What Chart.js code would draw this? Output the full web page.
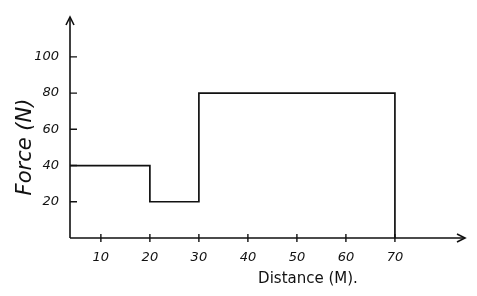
<!DOCTYPE html>
<html>
<head>
<meta charset="utf-8">
<script src="https://cdn.jsdelivr.net/npm/chart.js@4/dist/chart.umd.min.js"></script>
<style>
  html, body { margin: 0; padding: 0; background: #fff; }
  #wrap { width: 477px; height: 296px; }
</style>
</head>
<body>
<div id="wrap"><canvas id="c" width="477" height="296"></canvas></div>
<script>
// step profile: distance (m) -> force (N)
const distance = [3.7, 20, 20, 30, 30, 70, 70];
const force    = [40, 40, 20, 20, 80, 80, 0];
const xTicks = [10, 20, 30, 40, 50, 60, 70];
const yTicks = [20, 40, 60, 80, 100];

const ink = '#111';

// hand-drawn style axes with arrows, cross ticks and axis titles
const axesPlugin = {
  id: 'axes',
  beforeDatasetsDraw(chart) {
    const { ctx, chartArea: a, scales: { x, y } } = chart;
    ctx.save();
    ctx.strokeStyle = ink;
    ctx.lineWidth = 1.6;
    ctx.beginPath();
    ctx.moveTo(a.left, a.bottom);
    ctx.lineTo(a.left, a.top);
    ctx.moveTo(a.left, a.bottom);
    ctx.lineTo(a.right, a.bottom);
    ctx.stroke();
    // arrow heads
    ctx.beginPath();
    ctx.moveTo(a.left - 4, a.top + 8); ctx.lineTo(a.left, a.top); ctx.lineTo(a.left + 4, a.top + 8);
    ctx.moveTo(a.right - 8, a.bottom - 4); ctx.lineTo(a.right, a.bottom); ctx.lineTo(a.right - 8, a.bottom + 4);
    ctx.stroke();
    ctx.lineWidth = 1.4;
    ctx.beginPath();
    xTicks.forEach(v => {
      const px = x.getPixelForValue(v);
      ctx.moveTo(px, a.bottom - 4); ctx.lineTo(px, a.bottom + 4);
    });
    yTicks.forEach(v => {
      const py = y.getPixelForValue(v);
      ctx.moveTo(a.left, py); ctx.lineTo(a.left + 7, py);
    });
    ctx.stroke();

    // titles
    ctx.fillStyle = ink;
    ctx.textAlign = 'center';
    ctx.textBaseline = 'middle';
    ctx.font = "15px 'DejaVu Sans'";
    ctx.fillText('Distance (M).', 308, 279);
    ctx.translate(26, 147);
    ctx.rotate(-Math.PI / 2);
    ctx.font = "italic 21px 'DejaVu Sans'";
    ctx.fillText('Force (N)', 0, 0);
    ctx.restore();
  }
};

new Chart(document.getElementById('c'), {
  type: 'scatter',
  data: {
    datasets: [{
      data: distance.map((d, i) => ({ x: d, y: force[i] })),
      showLine: true,
      borderColor: ink,
      borderWidth: 1.7,
      pointRadius: 0,
      fill: false,
      tension: 0
    }]
  },
  options: {
    responsive: false,
    animation: false,
    layout: { padding: { top: 17, right: 12, left: 0, bottom: 0 } },
    plugins: { legend: { display: false }, tooltip: { enabled: false } },
    scales: {
      x: {
        type: 'linear', min: 3.7, max: 84.3,
        afterFit(s) { s.height = 58; },
        border: { display: false },
        grid: { display: false },
        afterBuildTicks(s) { s.ticks = xTicks.map(v => ({ value: v })); },
        ticks: { color: ink, font: { family: 'DejaVu Sans', style: 'italic', size: 13 }, padding: 4, maxRotation: 0 }
      },
      y: {
        type: 'linear', min: 0, max: 122,
        afterFit(s) { s.width = 70; },
        border: { display: false },
        grid: { display: false },
        afterBuildTicks(s) { s.ticks = yTicks.map(v => ({ value: v })); },
        ticks: { color: ink, font: { family: 'DejaVu Sans', style: 'italic', size: 13 }, padding: 3 }
      }
    }
  },
  plugins: [axesPlugin]
});
</script>
</body>
</html>
